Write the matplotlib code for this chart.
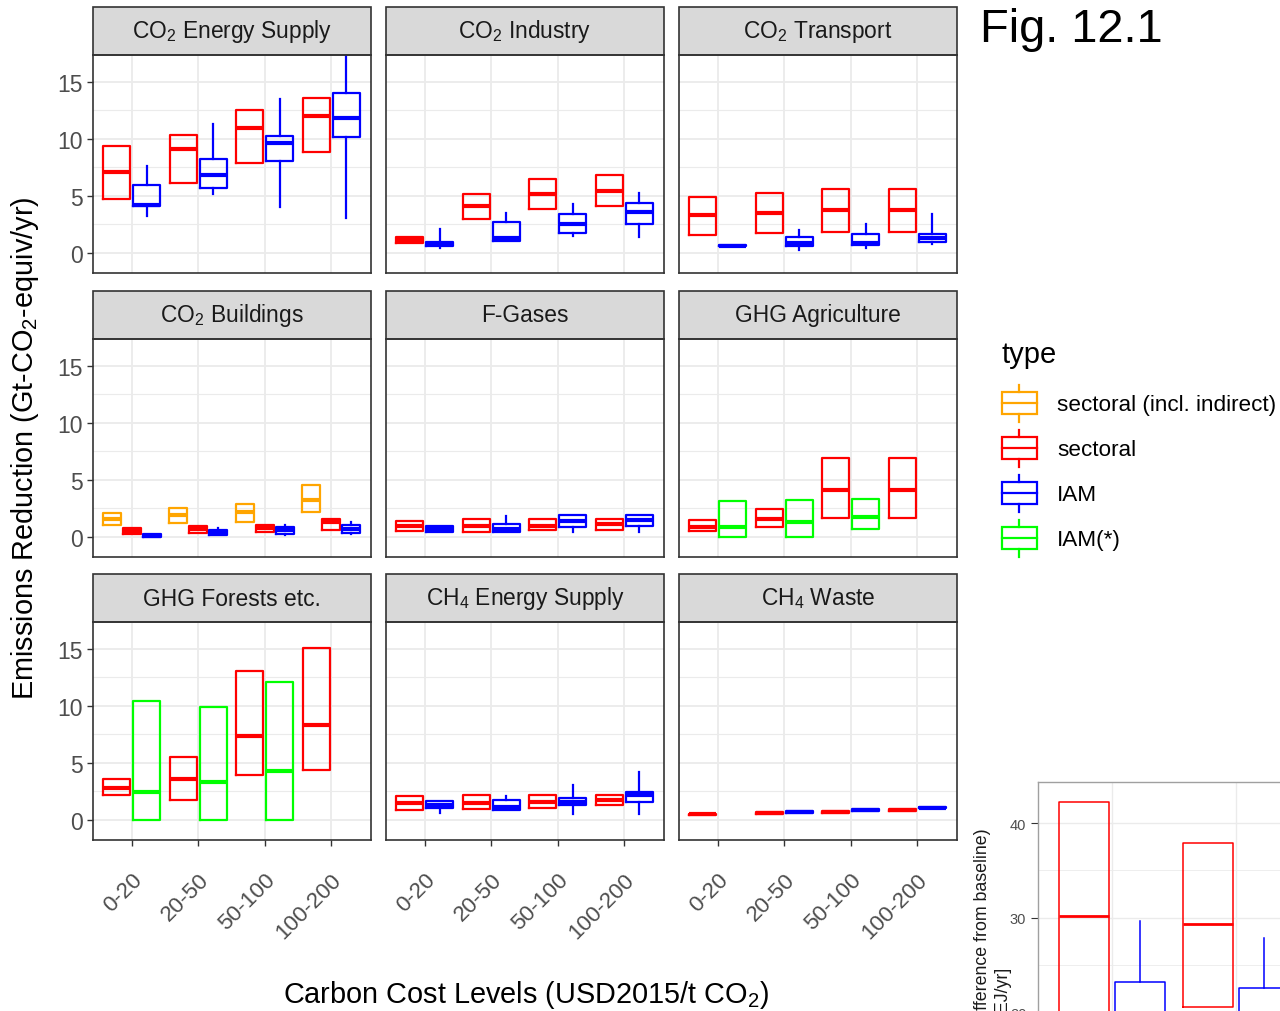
import matplotlib
matplotlib.use("Agg")
import matplotlib.pyplot as plt
from matplotlib.patches import Rectangle, Patch
from matplotlib.lines import Line2D
from matplotlib.legend_handler import HandlerBase

plt.rcParams["font.family"] = ["Liberation Sans", "DejaVu Sans"]
plt.rcParams["mathtext.default"] = "regular"

# carbon cost bins on the x axis
cost_levels = ["0-20", "20-50", "50-100", "100-200"]

# each entry: (whisker low, q1, median, q3, whisker high); None = no data
co2_energy_sectoral = [(4.74, 4.74, 7.08, 9.36, 9.36), (6.14, 6.14, 9.06, 10.32, 10.32),
                       (7.84, 7.84, 10.94, 12.49, 12.49), (8.86, 8.86, 11.99, 13.54, 13.54)]
co2_energy_iam = [(3.22, 4.09, 4.18, 5.91, 7.6), (5.12, 5.64, 6.78, 8.25, 11.29),
                  (4.04, 8.01, 9.65, 10.23, 13.45), (3.01, 10.15, 11.81, 14.04, 18.5)]

co2_industry_sectoral = [(0.8, 0.8, 1.1, 1.35, 1.35), (2.98, 2.98, 4.09, 5.12, 5.12),
                         (3.8, 3.8, 5.18, 6.43, 6.43), (4.06, 4.06, 5.41, 6.81, 6.81)]
co2_industry_iam = [(0.38, 0.58, 0.75, 0.94, 2.05), (1.05, 1.05, 1.26, 2.72, 3.45),
                    (1.46, 1.73, 2.49, 3.36, 4.3), (1.35, 2.54, 3.54, 4.33, 5.2)]

co2_transport_sectoral = [(1.58, 1.58, 3.3, 4.88, 4.88), (1.7, 1.7, 3.48, 5.2, 5.2),
                          (1.78, 1.78, 3.77, 5.58, 5.58), (1.81, 1.81, 3.77, 5.58, 5.58)]
co2_transport_iam = [(0.58, 0.58, 0.61, 0.64, 0.64), (0.26, 0.55, 0.85, 1.4, 2.02),
                     (0.38, 0.67, 0.82, 1.61, 2.51), (0.76, 0.96, 1.3, 1.67, 3.36)]

co2_buildings_indirect = [(1.0, 1.0, 1.55, 2.1, 2.1), (1.15, 1.15, 1.9, 2.5, 2.5),
                          (1.32, 1.32, 2.14, 2.87, 2.87), (2.2, 2.2, 3.23, 4.55, 4.55)]
co2_buildings_sectoral = [(0.26, 0.26, 0.5, 0.73, 0.73), (0.29, 0.29, 0.65, 0.94, 0.94),
                          (0.41, 0.41, 0.72, 1.03, 1.03), (0.59, 0.59, 1.26, 1.55, 1.55)]
co2_buildings_iam = [(-0.05, -0.05, 0.08, 0.2, 0.2), (0.18, 0.18, 0.4, 0.62, 0.73),
                     (0.12, 0.2, 0.55, 0.85, 1.03), (0.26, 0.35, 0.7, 1.0, 1.32)]

fgases_sectoral = [(0.45, 0.45, 0.95, 1.4, 1.4), (0.44, 0.44, 0.97, 1.52, 1.52),
                   (0.56, 0.56, 0.95, 1.52, 1.52), (0.59, 0.59, 1.08, 1.52, 1.52)]
fgases_iam = [(0.38, 0.38, 0.7, 0.97, 0.97), (0.38, 0.38, 0.67, 1.08, 1.85),
              (0.44, 0.82, 1.35, 1.88, 1.88), (0.44, 0.94, 1.42, 1.9, 1.9)]

agri_sectoral = [(0.45, 0.45, 0.8, 1.45, 1.45), (0.88, 0.88, 1.55, 2.43, 2.43),
                 (1.67, 1.67, 4.08, 6.86, 6.86), (1.67, 1.67, 4.08, 6.86, 6.86)]
agri_iam_star = [(0.0, 0.0, 0.88, 3.14, 3.14), (0.0, 0.0, 1.26, 3.2, 3.2),
                 (0.67, 0.67, 1.76, 3.28, 3.28), None]

forests_sectoral = [(2.12, 2.12, 2.79, 3.52, 3.52), (1.74, 1.74, 3.55, 5.52, 5.52),
                    (3.95, 3.95, 7.38, 13.02, 13.02), (4.36, 4.36, 8.28, 15.06, 15.06)]
forests_iam_star = [(0.0, 0.0, 2.44, 10.44, 10.44), (0.0, 0.0, 3.34, 9.88, 9.88),
                    (0.0, 0.0, 4.24, 12.09, 12.09), None]

ch4_energy_sectoral = [(0.87, 0.87, 1.45, 2.03, 2.03), (0.9, 0.9, 1.48, 2.12, 2.12),
                       (0.99, 0.99, 1.57, 2.12, 2.12), (1.25, 1.25, 1.69, 2.12, 2.12)]
ch4_energy_iam = [(0.55, 1.05, 1.3, 1.6, 1.6), (0.84, 0.84, 1.1, 1.74, 2.03),
                  (0.49, 1.25, 1.57, 1.89, 3.02), (0.49, 1.54, 2.18, 2.38, 4.16)]

ch4_waste_sectoral = [(0.42, 0.42, 0.47, 0.52, 0.52), (0.53, 0.53, 0.58, 0.63, 0.63),
                      (0.62, 0.62, 0.67, 0.72, 0.72), (0.79, 0.79, 0.84, 0.89, 0.89)]
ch4_waste_iam = [None, (0.62, 0.62, 0.67, 0.72, 0.72),
                 (0.79, 0.79, 0.84, 0.89, 0.89), (1.0, 1.0, 1.05, 1.1, 1.1)]

# energy chart corner (two cost bins)
energy_sectoral = [(15.0, 15.0, 30.2, 42.2, 42.2), (20.6, 20.6, 29.3, 37.9, 37.9)]
energy_iam = [(9.0, 13.0, 17.0, 23.2, 29.7), (8.0, 12.5, 16.5, 22.6, 27.9)]

type_colors = {
    "sectoral (incl. indirect)": "#FFA500",
    "sectoral": "#FF0000",
    "IAM": "#0000FF",
    "IAM(*)": "#00FF00",
}

panels = [
    ("CO$_2$ Energy Supply", [("sectoral", co2_energy_sectoral), ("IAM", co2_energy_iam)]),
    ("CO$_2$ Industry", [("sectoral", co2_industry_sectoral), ("IAM", co2_industry_iam)]),
    ("CO$_2$ Transport", [("sectoral", co2_transport_sectoral), ("IAM", co2_transport_iam)]),
    ("CO$_2$ Buildings", [("sectoral (incl. indirect)", co2_buildings_indirect),
                          ("sectoral", co2_buildings_sectoral), ("IAM", co2_buildings_iam)]),
    ("F-Gases", [("sectoral", fgases_sectoral), ("IAM", fgases_iam)]),
    ("GHG Agriculture", [("sectoral", agri_sectoral), ("IAM(*)", agri_iam_star)]),
    ("GHG Forests etc.", [("sectoral", forests_sectoral), ("IAM(*)", forests_iam_star)]),
    ("CH$_4$ Energy Supply", [("sectoral", ch4_energy_sectoral), ("IAM", ch4_energy_iam)]),
    ("CH$_4$ Waste", [("sectoral", ch4_waste_sectoral), ("IAM", ch4_waste_iam)]),
]

FIG_W, FIG_H = 1280, 1012
GRID = "#EBEBEB"
DARK = "#333333"
TICK_TXT = "#4D4D4D"


def px_rect(left, top, width, height):
    return [left / FIG_W, 1 - (top + height) / FIG_H, width / FIG_W, height / FIG_H]


def draw_boxes(ax, series, lw=1.6, med_lw=3.0):
    n = len(series)
    slot = 0.9 / n
    for i, (name, stats) in enumerate(series):
        color = type_colors[name]
        offset = -0.45 + slot * (i + 0.5)
        bxstats, positions = [], []
        for k, row in enumerate(stats):
            if row is None:
                continue
            lo, q1, med, q3, hi = row
            bxstats.append(dict(whislo=lo, q1=q1, med=med, q3=q3, whishi=hi, fliers=[]))
            positions.append(k + 1 + offset)
        ax.bxp(bxstats, positions=positions, widths=slot * 0.9,
               showcaps=False, showfliers=False, manage_ticks=False,
               boxprops=dict(color=color, lw=lw),
               whiskerprops=dict(color=color, lw=lw),
               medianprops=dict(color=color, lw=med_lw, solid_capstyle="butt"))


class BoxKeyHandler(HandlerBase):
    def create_artists(self, legend, orig_handle, xdescent, ydescent,
                       width, height, fontsize, trans):
        c = orig_handle.get_edgecolor()
        x0, y0 = -xdescent, -ydescent
        stub = height * 0.2
        rect = Rectangle((x0, y0 + stub), width, height - 2 * stub, fill=False,
                         edgecolor=c, lw=1.6, transform=trans)
        mid = Line2D([x0, x0 + width], [y0 + height / 2] * 2, color=c, lw=1.6, transform=trans)
        top = Line2D([x0 + width / 2] * 2, [y0 + height - stub, y0 + height], color=c, lw=1.6,
                     transform=trans)
        bot = Line2D([x0 + width / 2] * 2, [y0, y0 + stub], color=c, lw=1.6, transform=trans)
        return [rect, mid, top, bot]


fig = plt.figure(figsize=(FIG_W / 100, FIG_H / 100), dpi=100)

col_left = [93, 386, 679]
row_top = [56, 340, 623]
panel_w, panel_h, strip_h = 278, 217.5, 48

for idx, (title, series) in enumerate(panels):
    r, c = divmod(idx, 3)
    ax = fig.add_axes(px_rect(col_left[c], row_top[r], panel_w, panel_h))
    ax.set_axisbelow(True)
    draw_boxes(ax, series)
    ax.set_xlim(0.42, 4.6)
    ax.set_ylim(-1.75, 17.35)
    ax.set_yticks([0, 5, 10, 15])
    ax.set_yticks([2.5, 7.5, 12.5], minor=True)
    ax.set_xticks(range(1, 5))
    ax.grid(which="major", color=GRID, lw=1.3)
    ax.grid(which="minor", axis="y", color=GRID, lw=0.8)
    for s in ax.spines.values():
        s.set_color(DARK)
        s.set_linewidth(1.2)
    ax.tick_params(which="minor", length=0)
    ax.tick_params(colors=DARK, labelcolor=TICK_TXT, labelsize=16.5, width=1, length=4)
    if c > 0:
        ax.tick_params(axis="y", labelleft=False, length=0)
    if r < 2:
        ax.tick_params(axis="x", labelbottom=False, length=0)
    else:
        ax.tick_params(axis="x", pad=17)
        ax.set_xticklabels(cost_levels, rotation=45, ha="right", va="top",
                           rotation_mode="anchor", fontsize=16.2)
    ax.add_patch(Rectangle((0, 1), 1, strip_h / panel_h, transform=ax.transAxes,
                           clip_on=False, facecolor="#D9D9D9", edgecolor=DARK, lw=1.2))
    ax.text(0.5, 1 + strip_h / panel_h / 2, title, transform=ax.transAxes,
            ha="center", va="center", fontsize=16.4, color="#1A1A1A")

fig.text(25 / FIG_W, 1 - 448 / FIG_H, "Emissions Reduction (Gt-CO$_2$-equiv/yr)",
         rotation=90, ha="center", va="center", fontsize=20.8, color="black")
fig.text(526 / FIG_W, 1 - 995 / FIG_H, "Carbon Cost Levels (USD2015/t CO$_2$)",
         ha="center", va="center", fontsize=20.8, color="black")
fig.text(980 / FIG_W, 1 - 30 / FIG_H, "Fig. 12.1", ha="left", va="center", fontsize=33.8)

handles = [Patch(edgecolor=col, facecolor="none") for col in type_colors.values()]
leg = fig.legend(handles, list(type_colors.keys()), loc="upper left",
                 bbox_to_anchor=(1002 / FIG_W, 1 - 341 / FIG_H), frameon=False,
                 title="type", title_fontsize=21, fontsize=16.2, alignment="left",
                 handler_map={Patch: BoxKeyHandler()}, handlelength=1.55, handleheight=2.15,
                 labelspacing=0.36, handletextpad=0.9, borderpad=0, borderaxespad=0)
leg._legend_box.sep = 12

# corner of the energy chart
inset_w, inset_h = 500, 420
iax = fig.add_axes(px_rect(1038, 783, inset_w, inset_h))
iax.set_axisbelow(True)
draw_boxes(iax, [("sectoral", energy_sectoral), ("IAM", energy_iam)], lw=1.1, med_lw=2.0)
iax.set_xlim(0.403, 0.403 + inset_w / 124)
iax.set_ylim(44.33 - inset_h / 9.47, 44.33)
iax.set_yticks([20, 30, 40])
iax.set_yticks([25, 35], minor=True)
iax.set_xticks([1, 2])
iax.grid(which="major", color=GRID, lw=1.0)
iax.grid(which="minor", axis="y", color=GRID, lw=0.6)
iax.tick_params(which="minor", length=0)
iax.tick_params(axis="x", labelbottom=False, length=0)
iax.tick_params(axis="y", colors=DARK, labelcolor=TICK_TXT, labelsize=10.5, length=5, width=0.8)
for s in iax.spines.values():
    s.set_color("#A0A0A0")
    s.set_linewidth(1.0)
fig.text(992 / FIG_W, 1 - 828 / FIG_H, "Primary energy (difference from baseline)\n[EJ/yr]",
         rotation=90, ha="center", va="top", multialignment="center", fontsize=12.8,
         color="#1A1A1A")

fig.savefig("out.png", dpi=100)
